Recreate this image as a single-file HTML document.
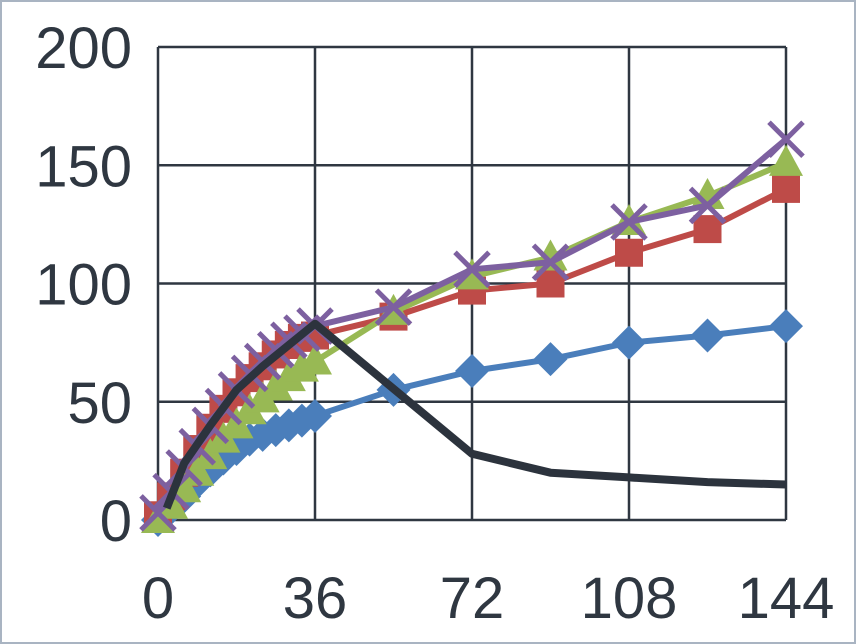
<!DOCTYPE html>
<html><head><meta charset="utf-8"><style>
html,body{margin:0;padding:0;background:#fff;}
svg{display:block;font-family:"Liberation Sans",sans-serif;}
</style></head><body>
<svg id="chart" width="856" height="644" viewBox="0 0 856 644" xmlns="http://www.w3.org/2000/svg">
<rect x="1" y="1" width="854" height="642" fill="#fff" stroke="#a9b4c2" stroke-width="2"/>
<g id="grid"></g>
<g id="series"></g>
<g id="labels"></g>
</svg>
<script>
const xTicks=[0,36,72,108,144];
const yTicks=[0,50,100,150,200];
const xDense=[0,3,6,9,12,15,18,21,24,27,30,33,36,54,72,90,108,126,144];
const blueVals=[0,5,10,16,21,26,30,34,36,38,40,42,44,55,63,68,75,78,82];
const redVals=[2,10,20,30,39,47,54,60,65,70,74,77,78,86,97,100,113,123,140];
const greenVals=[0,6,13,20,27,34,40,46,51,56,60,64,67,88,103,111,126,137,151];
const purpleVals=[3,12,22,31,40,48,55,62,67,72,76,79,82,90,106,109,126,133,161];
const blackX=[2,6,12,18,24,30,36,72,90,108,126,144];
const blackVals=[5,24,40,55,65,74,83,28,20,18,16,15];

const NS="http://www.w3.org/2000/svg";
const X0=158,X1=786,Y0=520,Y1=47;
const sx=v=>X0+(v-0)/(144)*(X1-X0);
const sy=v=>Y0-(v/200)*(Y0-Y1);
function mk(tag,attrs,parent){const e=document.createElementNS(NS,tag);for(const k in attrs)e.setAttribute(k,attrs[k]);parent.appendChild(e);return e;}
const grid=document.getElementById('grid'),ser=document.getElementById('series'),lab=document.getElementById('labels');
yTicks.forEach(t=>{
  const l=mk('line',{x1:X0,x2:X1,y1:sy(t),y2:sy(t),stroke:'#2f3741','stroke-width':2.5},grid);
  
  
  const tx=mk('text',{x:132,y:sy(t)+21,'text-anchor':'end','font-size':58,fill:'#2f3741'},lab);
  tx.textContent=t;
  
  
});
xTicks.forEach(t=>{
  const l=mk('line',{x1:sx(t),x2:sx(t),y1:Y1,y2:Y0,stroke:'#2f3741','stroke-width':2.5},grid);
  
  
  const tx=mk('text',{x:sx(t),y:618,'text-anchor':'middle','font-size':58,fill:'#2f3741'},lab);
  tx.textContent=t;
  
  
});
function line(xs,ys,color,name,w){
  const p=mk('polyline',{points:xs.map((x,i)=>sx(x)+','+sy(ys[i])).join(' '),fill:'none',stroke:color,'stroke-width':w,'stroke-linejoin':'round'},ser);
  
  
}
function markers(xs,ys,color,type,name){
  xs.forEach((x,i)=>{
    const cx=sx(x),cy=sy(ys[i]);let m;
    if(type==='diamond')m=mk('polygon',{points:`${cx},${cy-17} ${cx+17},${cy} ${cx},${cy+17} ${cx-17},${cy}`,fill:color},ser);
    else if(type==='square')m=mk('rect',{x:cx-14,y:cy-14,width:28,height:28,fill:color},ser);
    else if(type==='triangle')m=mk('polygon',{points:`${cx},${cy-18} ${cx+17},${cy+13} ${cx-17},${cy+13}`,fill:color},ser);
    else m=mk('path',{d:`M${cx-17},${cy-17}L${cx+17},${cy+17}M${cx+17},${cy-17}L${cx-17},${cy+17}`,stroke:color,'stroke-width':5,fill:'none'},ser);
    
    
  });
}
line(xDense,blueVals,'#4a7ebb','blue-series-line',6);markers(xDense,blueVals,'#4a7ebb','diamond','blue-marker');
line(xDense,redVals,'#be4b48','red-series-line',6);markers(xDense,redVals,'#be4b48','square','red-marker');
line(xDense,greenVals,'#98b954','green-series-line',6);markers(xDense,greenVals,'#98b954','triangle','green-marker');
line(xDense,purpleVals,'#7d60a0','purple-series-line',6);markers(xDense,purpleVals,'#7d60a0','x','purple-marker');
line(blackX,blackVals,'#2c333d','black-series-line',8);
</script>
</body></html>
